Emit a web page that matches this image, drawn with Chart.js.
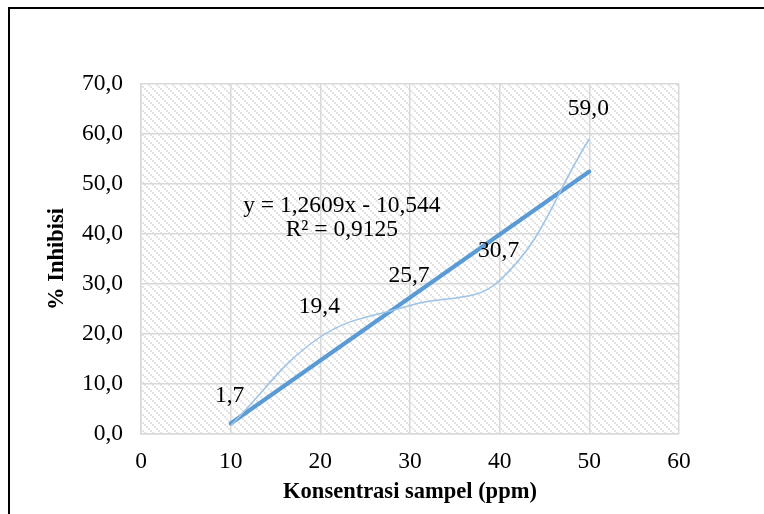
<!DOCTYPE html>
<html>
<head>
<meta charset="utf-8">
<script src="https://cdn.jsdelivr.net/npm/chart.js@4/dist/chart.umd.min.js"></script>
<style>
  html, body { margin: 0; padding: 0; background: #fff; }
  #wrap { position: relative; width: 764px; height: 514px; overflow: hidden; }
  #frame { position: absolute; left: 8px; top: 7px; width: 800px; height: 600px;
           border-left: 2px solid #000; border-top: 2px solid #000; box-sizing: border-box; }
  canvas { position: absolute; left: 0; top: 0; }
</style>
</head>
<body>
<div id="wrap">
  <div id="frame"></div>
  <canvas id="myChart" width="764" height="514"></canvas>
</div>
<script>
const concentration = [10, 20, 30, 40, 50];
const inhibition = [1.7, 19.4, 25.7, 30.7, 59.0];
const trendX = [10, 50];
const trendY = [2.1, 52.5];
const equationText = ["y = 1,2609x - 10,544", "R\u00b2 = 0,9125"];

const serif = "'Liberation Serif', 'Times New Roman', serif";

function hatchPattern() {
  const c = document.createElement("canvas");
  c.width = 8;
  c.height = 8;
  const g = c.getContext("2d");
  g.fillStyle = "#ffffff";
  g.fillRect(0, 0, 8, 8);
  g.fillStyle = "#e4e4e4";
  for (let i = 0; i < 8; i += 2) {
    g.fillRect(i, i, 2, 2);
  }
  return document.getElementById("myChart").getContext("2d").createPattern(c, "repeat");
}

const comma = (v, d) => v.toFixed(d).replace(".", ",");

const plotBackground = {
  id: "plotBackground",
  beforeDraw(chart) {
    const { ctx, chartArea: a } = chart;
    ctx.save();
    ctx.fillStyle = hatchPattern();
    ctx.fillRect(a.left, a.top, a.right - a.left, a.bottom - a.top);
    ctx.restore();
  },
};

const labelsAndEquation = {
  id: "labelsAndEquation",
  afterDatasetsDraw(chart) {
    const ctx = chart.ctx;
    const meta = chart.getDatasetMeta(0);
    ctx.save();
    ctx.font = "23.5px " + serif;
    ctx.fillStyle = "#000";
    ctx.textAlign = "center";
    ctx.textBaseline = "middle";
    meta.data.forEach((pt, i) => {
      ctx.fillText(comma(inhibition[i], 1), pt.x - 1, pt.y - 30);
    });
    const xs = chart.scales.x, ys = chart.scales.y;
    ctx.fillText(equationText[0], xs.getPixelForValue(22.4), ys.getPixelForValue(45.6));
    ctx.fillText(equationText[1], xs.getPixelForValue(22.4), ys.getPixelForValue(40.8));
    ctx.restore();
  },
};

const config = {
  type: "line",
  data: {
    datasets: [
      {
        label: "% Inhibisi",
        data: concentration.map((x, i) => ({ x: x, y: inhibition[i] })),
        borderColor: "#9dc3e6",
        borderWidth: 1.5,
        pointRadius: 0,
        tension: 0.4,
        fill: false,
      },
      {
        label: "Linear",
        data: trendX.map((x, i) => ({ x: x, y: trendY[i] })),
        borderColor: "#5b9bd5",
        borderWidth: 4,
        borderCapStyle: "round",
        pointRadius: 0,
        fill: false,
      },
    ],
  },
  options: {
    responsive: false,
    animation: false,
    layout: { padding: { left: 40, top: 84, right: 85, bottom: 0 } },
    plugins: { legend: { display: false }, tooltip: { enabled: false } },
    scales: {
      x: {
        type: "linear",
        min: 0,
        max: 60,
        ticks: { stepSize: 10, color: "#000", font: { family: serif, size: 23.5 }, padding: 14 },
        grid: { color: "#d9d9d9", lineWidth: 1.5, drawTicks: false },
        border: { color: "#d9d9d9", width: 1.5 },
        title: {
          display: true,
          text: "Konsentrasi sampel (ppm)",
          color: "#000",
          font: { family: serif, size: 22.5, weight: "bold" },
          padding: { top: 4, bottom: 8 },
        },
        afterFit(scale) { scale.height = 80; },
      },
      y: {
        min: 0,
        max: 70,
        ticks: {
          stepSize: 10,
          color: "#000",
          font: { family: serif, size: 23.5 },
          padding: 18,
          callback: (v) => comma(v, 1),
        },
        grid: { color: "#d9d9d9", lineWidth: 1.5, drawTicks: false },
        border: { color: "#d9d9d9", width: 1.5 },
        title: {
          display: true,
          text: "% Inhibisi",
          color: "#000",
          font: { family: serif, size: 22.5, weight: "bold" },
        },
        afterFit(scale) { scale.width = 101; },
      },
    },
  },
  plugins: [plotBackground, labelsAndEquation],
};

const myChart = new Chart(document.getElementById("myChart"), config);
</script>
</body>
</html>
